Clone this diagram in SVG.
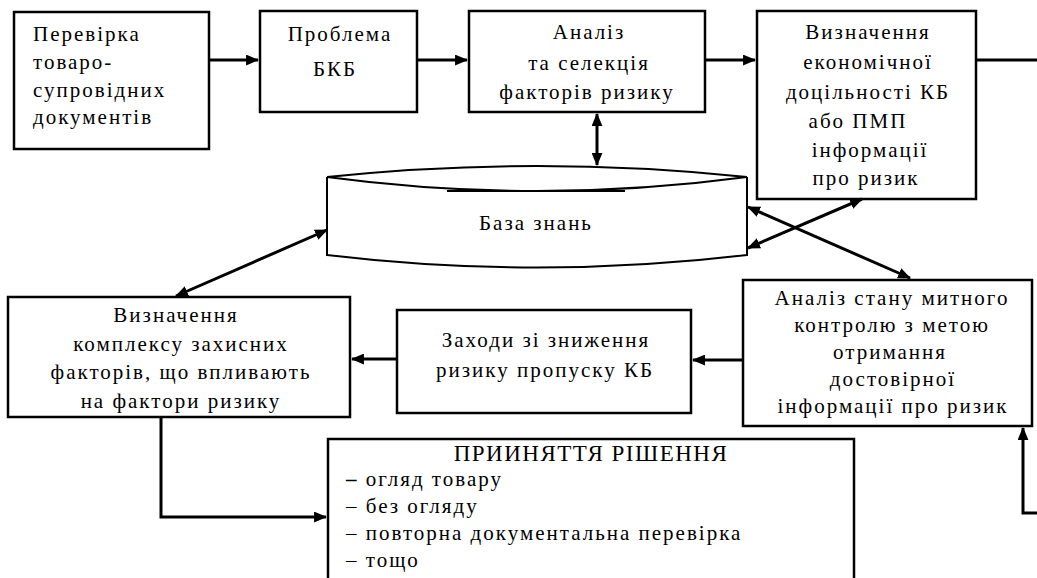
<svg xmlns="http://www.w3.org/2000/svg" width="1037" height="578" viewBox="0 0 1037 578">
<style>
.box{fill:#fff;stroke:#000;stroke-width:2.5}
.t{font-family:"Liberation Serif","Times New Roman",serif;font-size:21px;letter-spacing:2px;fill:#000}
.c{text-anchor:middle}
.ln{fill:none;stroke:#000;stroke-width:3}
.cyl{fill:none;stroke:#000;stroke-width:2}
</style>
<defs>
<marker id="ah" viewBox="0 0 12 10" refX="11" refY="5" markerWidth="13" markerHeight="11" markerUnits="userSpaceOnUse" orient="auto-start-reverse">
<path d="M0,0 L12,5 L0,10 Z" fill="#000"/>
</marker>
</defs>
<rect width="1037" height="578" fill="#fff"/>

<g id="n1">
<rect class="box" x="14" y="12" width="195" height="137"/>
<text class="t" x="33" y="41">Перевірка</text>
<text class="t" x="33" y="69">товаро-</text>
<text class="t" x="33" y="97">супровідних</text>
<text class="t" x="33" y="124">документів</text>
</g>
<g id="n2">
<rect class="box" x="260" y="11" width="157" height="101"/>
<text class="t c" x="340" y="41">Проблема</text>
<text class="t c" x="335" y="76">БКБ</text>
</g>
<g id="n3">
<rect class="box" x="469" y="11" width="236" height="101"/>
<text class="t c" x="589" y="39">Аналіз</text>
<text class="t c" x="589" y="70">та селекція</text>
<text class="t c" x="587" y="99">факторів ризику</text>
</g>
<g id="n4">
<rect class="box" x="757" y="11" width="219" height="188"/>
<text class="t c" x="868" y="39">Визначення</text>
<text class="t c" x="868" y="69">економічної</text>
<text class="t c" x="868" y="99">доцільності КБ</text>
<text class="t c" x="858" y="128">або ПМП</text>
<text class="t c" x="870" y="157">інформації</text>
<text class="t c" x="866" y="185">про ризик</text>
</g>
<g id="kb">
<path class="cyl" d="M327,177 Q537,155 747,177"/>
<path class="cyl" d="M327,177 Q537,205 747,177"/>
<path class="cyl" d="M447,191 L625,191" stroke-width="3.5"/>
<path class="cyl" d="M327,177 L327,255 Q537,280 747,255 L747,177"/>
<text class="t c" x="536" y="230">База знань</text>
</g>
<g id="n5">
<rect class="box" x="8" y="297" width="342" height="120"/>
<text class="t c" x="176" y="322">Визначення</text>
<text class="t c" x="181" y="351">комплексу захисних</text>
<text class="t c" x="181" y="379">факторів, що впливають</text>
<text class="t c" x="181" y="408">на фактори ризику</text>
</g>
<g id="n6">
<rect class="box" x="397" y="310" width="294" height="103"/>
<text class="t c" x="546" y="347">Заходи зі зниження</text>
<text class="t c" x="545" y="377">ризику пропуску КБ</text>
</g>
<g id="n7">
<rect class="box" x="743" y="280" width="289" height="146"/>
<text class="t c" x="892" y="305">Аналіз стану митного</text>
<text class="t c" x="892" y="332">контролю з метою</text>
<text class="t c" x="890" y="359">отримання</text>
<text class="t c" x="893" y="386">достовірної</text>
<text class="t c" x="893" y="413">інформації про ризик</text>
</g>
<g id="n8">
<path class="box" d="M328,580 L328,439 L854,439 L854,580"/>
<text class="t c" x="591" y="461" style="font-size:23px;letter-spacing:1.5px">ПРИИНЯТТЯ РІШЕННЯ</text>
<text class="t" x="346" y="486"><tspan font-weight="bold">–</tspan> огляд  товару</text>
<text class="t" x="346" y="513">– без огляду</text>
<text class="t" x="346" y="540">– повторна документальна перевірка</text>
<text class="t" x="346" y="567">– тощо</text>
</g>

<g id="connectors">
<path class="ln" d="M209,60 L258,60" marker-end="url(#ah)"/>
<path class="ln" d="M417,60 L467,60" marker-end="url(#ah)"/>
<path class="ln" d="M705,60 L755,60" marker-end="url(#ah)"/>
<path class="ln" d="M976,60 L1037,60"/>
<path class="ln" d="M597,114 L597,165" marker-start="url(#ah)" marker-end="url(#ah)"/>
<path class="ln" d="M327,230 L176,296" marker-start="url(#ah)" marker-end="url(#ah)"/>
<path class="ln" d="M748,207 L910,278" marker-start="url(#ah)" marker-end="url(#ah)"/>
<path class="ln" d="M862,199 L748,248" marker-start="url(#ah)" marker-end="url(#ah)"/>
<path class="ln" d="M743,360 L693,360" marker-end="url(#ah)"/>
<path class="ln" d="M397,359 L352,359" marker-end="url(#ah)"/>
<path class="ln" d="M161,417 L161,517 L326,517" marker-end="url(#ah)"/>
<path class="ln" d="M1037,513 L1023,513 L1023,428" marker-end="url(#ah)"/>
</g>
</svg>
